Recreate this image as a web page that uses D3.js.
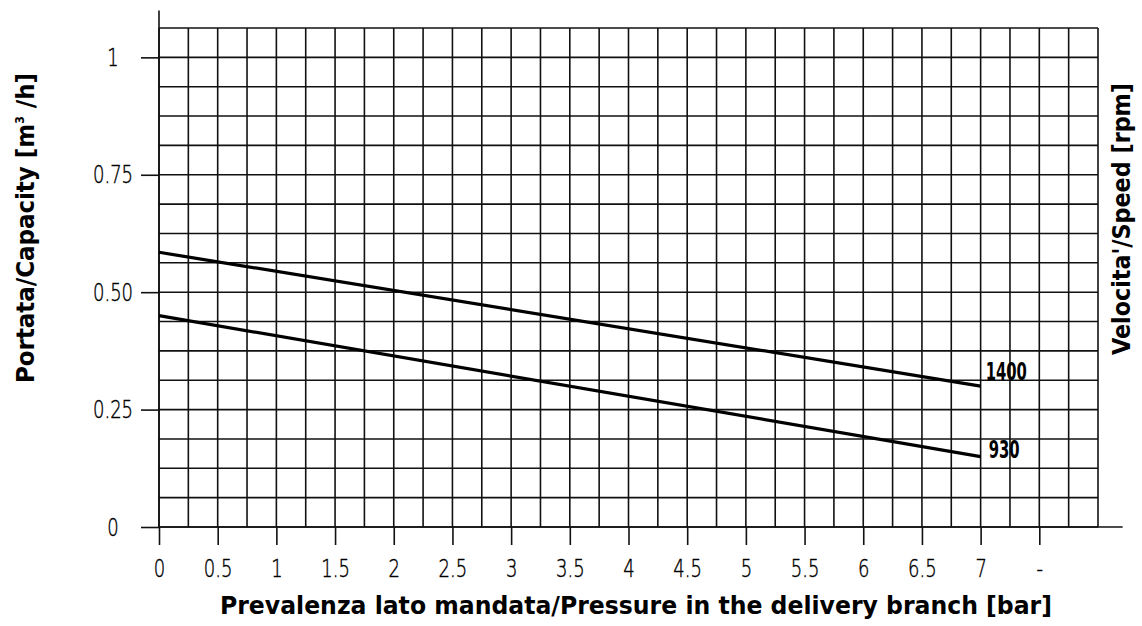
<!DOCTYPE html>
<html lang="it">
<head>
  <meta charset="UTF-8">
  <title>Portata / Prevalenza</title>
  <script src="https://d3js.org/d3.v7.min.js"></script>
  <style>
    html, body {
      margin: 0;
      padding: 0;
      background: #fff;
    }
    #chart {
      width: 1142px;
      height: 626px;
    }
    .tick text {
      font-family: "DejaVu Sans", sans-serif;
      font-weight: 200;
      font-size: 25px;
      fill: #000;
      stroke: #000;
      stroke-width: 0.45px;
    }
    .title {
      font-family: "DejaVu Sans Condensed", "DejaVu Sans", sans-serif;
      font-weight: bold;
      fill: #000;
    }
  </style>
</head>
<body>
  <div id="chart"></div>
  <script>
    // data
    var pressure = [0, 7];                 // bar
    var cap1400 = [0.585, 0.30];           // m3/h at 1400 rpm
    var cap930 = [0.45, 0.15];             // m3/h at 930 rpm
    var speedLabels = ["1400", "930"];

    var xTickValues = [0, 0.5, 1, 1.5, 2, 2.5, 3, 3.5, 4, 4.5, 5, 5.5, 6, 6.5, 7, 7.5];
    var xTickLabels = ["0", "0.5", "1", "1.5", "2", "2.5", "3", "3.5", "4", "4.5", "5", "5.5", "6", "6.5", "7", "-"];
    var yTickValues = [0, 0.25, 0.5, 0.75, 1];
    var yTickLabels = ["0", "0.25", "0.50", "0.75", "1"];

    var width = 1142, height = 626;
    var margin = {top: 28, right: 44, bottom: 99, left: 159};

    var svg = d3.select("#chart").append("svg")
      .attr("width", width)
      .attr("height", height);

    var x = d3.scaleLinear().domain([0, 8]).range([margin.left, width - margin.right]);
    var y = d3.scaleLinear().domain([0, 1.0625]).range([height - margin.bottom, margin.top]);

    // grid: 0.25 bar by 0.0625 m3/h
    var gx = d3.range(0, 8.001, 0.25);
    var gy = d3.range(0, 1.0626, 0.0625);

    var grid = svg.append("g")
      .attr("stroke", "#111")
      .attr("stroke-width", 1.6);

    grid.selectAll(".vline").data(gx).enter().append("line")
      .attr("x1", d => x(d)).attr("x2", d => x(d))
      .attr("y1", y(0)).attr("y2", y(1.0625));

    grid.selectAll(".hline").data(gy).enter().append("line")
      .attr("x1", x(0)).attr("x2", x(8))
      .attr("y1", d => y(d)).attr("y2", d => y(d));

    // axis lines running past the grid
    svg.append("line")
      .attr("x1", x(0)).attr("x2", x(0))
      .attr("y1", y(0)).attr("y2", y(1.1))
      .attr("stroke", "#111").attr("stroke-width", 1.6);
    svg.append("line")
      .attr("x1", x(0)).attr("x2", x(8.21))
      .attr("y1", y(0)).attr("y2", y(0))
      .attr("stroke", "#111").attr("stroke-width", 1.6);

    // squeeze the thin tick digits so they look like the narrow CAD font
    function narrow(sel) {
      sel.each(function() {
        var w = this.getComputedTextLength();
        d3.select(this)
          .attr("textLength", w * 0.72)
          .attr("lengthAdjust", "spacingAndGlyphs");
      });
    }

    // x axis
    var xAxis = svg.append("g")
      .attr("transform", `translate(0,${y(0)})`)
      .call(d3.axisBottom(x)
        .tickValues(xTickValues)
        .tickFormat((d, i) => xTickLabels[i])
        .tickSize(18)
        .tickPadding(14));
    xAxis.select(".domain").remove();
    xAxis.selectAll(".tick line").attr("stroke", "#111").attr("stroke-width", 1.6);
    xAxis.selectAll(".tick text").call(narrow);

    // y axis
    var yAxis = svg.append("g")
      .attr("transform", `translate(${x(0)},0)`)
      .call(d3.axisLeft(y)
        .tickValues(yTickValues)
        .tickFormat((d, i) => yTickLabels[i])
        .tickSize(18)
        .tickPadding(26));
    yAxis.select(".domain").remove();
    yAxis.selectAll(".tick line").attr("stroke", "#111").attr("stroke-width", 1.6);
    yAxis.selectAll(".tick text").attr("text-anchor", "middle").attr("dx", 0)
      .attr("x", -46).call(narrow);

    // curves
    var series = [cap1400, cap930];
    var line = d3.line()
      .x((d, i) => x(pressure[i]))
      .y(d => y(d));

    svg.selectAll(".curve").data(series).enter().append("path")
      .attr("fill", "none")
      .attr("stroke", "#000")
      .attr("stroke-width", 3.2)
      .attr("d", d => line(d));

    svg.selectAll(".speed").data(series).enter().append("text")
      .attr("class", "title")
      .attr("x", (d, i) => x(pressure[1]) + (i === 0 ? 5 : 8))
      .attr("y", (d, i) => y(d[d.length - 1]) + (i === 0 ? -6 : 1))
      .attr("font-size", 25)
      .attr("textLength", (d, i) => speedLabels[i].length * 10.3)
      .attr("lengthAdjust", "spacingAndGlyphs")
      .text((d, i) => speedLabels[i]);

    // axis titles
    svg.append("text")
      .attr("class", "title")
      .attr("x", 636).attr("y", 614)
      .attr("text-anchor", "middle")
      .attr("font-size", 25)
      .attr("textLength", 832)
      .attr("lengthAdjust", "spacingAndGlyphs")
      .text("Prevalenza lato mandata/Pressure in the delivery branch [bar]");

    var yt = svg.append("text")
      .attr("class", "title")
      .attr("transform", "translate(34,228) rotate(-90)")
      .attr("text-anchor", "middle")
      .attr("font-size", 25)
      .attr("textLength", 310)
      .attr("lengthAdjust", "spacingAndGlyphs");
    yt.append("tspan").text("Portata/Capacity [m");
    yt.append("tspan").attr("font-size", 12).attr("dy", -10).text("3");
    yt.append("tspan").attr("dy", 10).text(" /h]");

    svg.append("text")
      .attr("class", "title")
      .attr("transform", "translate(1130,219) rotate(-90)")
      .attr("text-anchor", "middle")
      .attr("font-size", 25)
      .attr("textLength", 272)
      .attr("lengthAdjust", "spacingAndGlyphs")
      .text("Velocita'/Speed [rpm]");
  </script>
</body>
</html>
